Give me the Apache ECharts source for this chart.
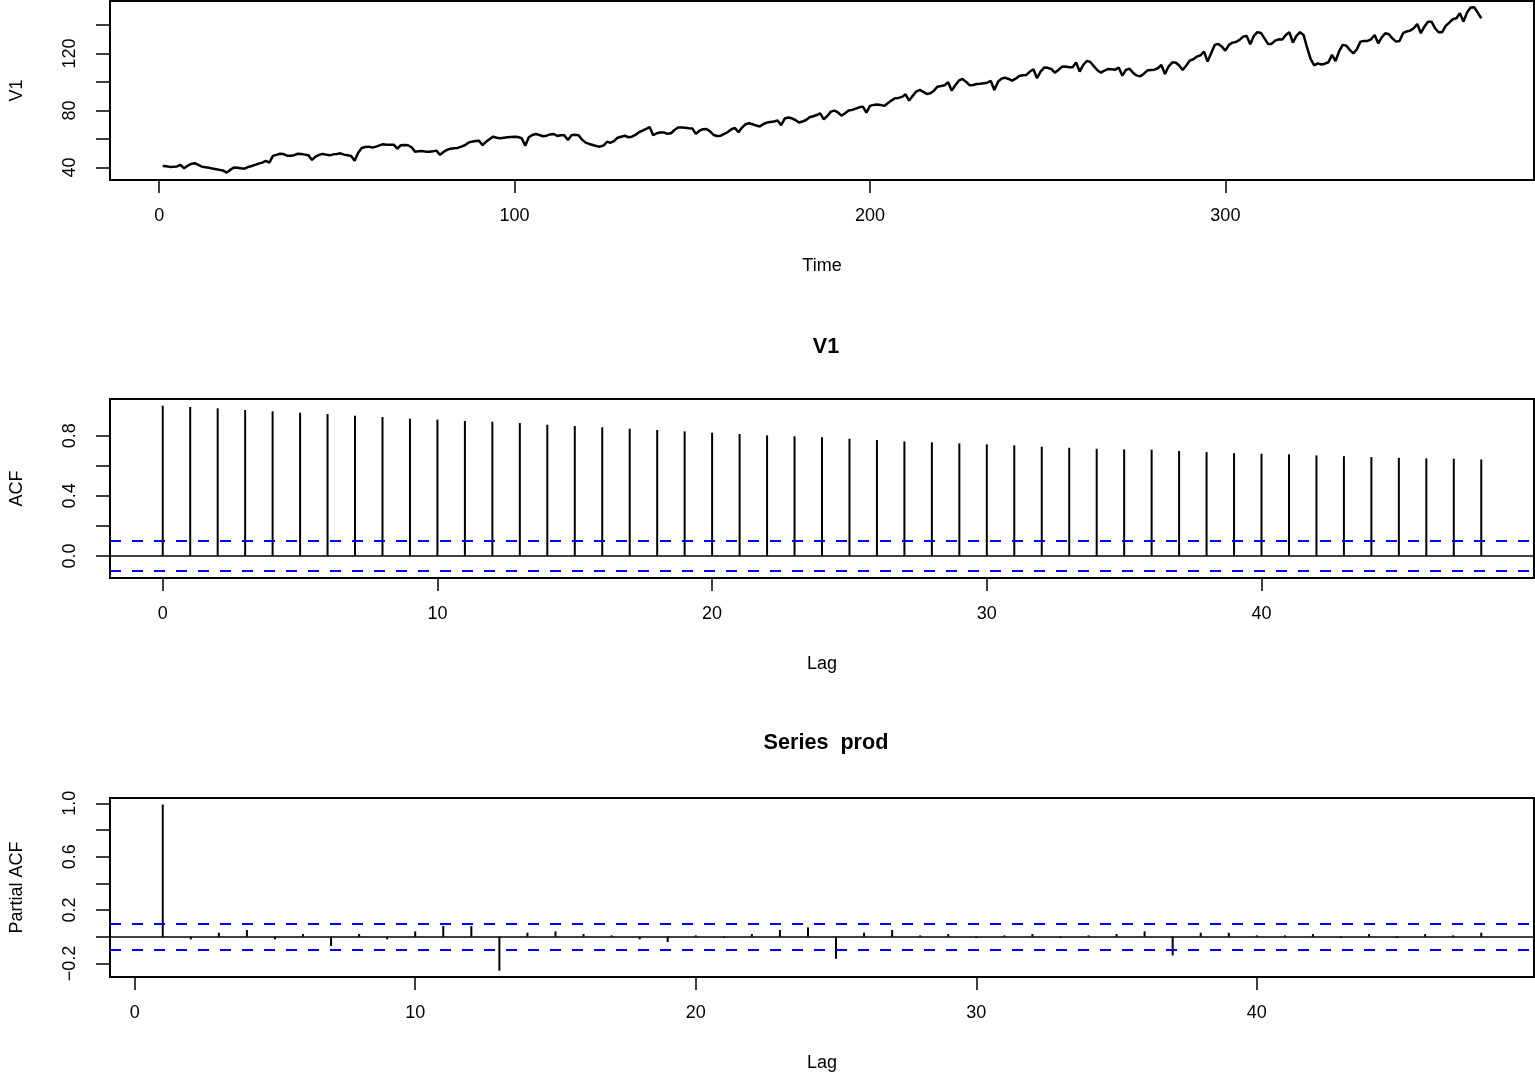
<!DOCTYPE html>
<html>
<head>
<meta charset="utf-8">
<title>V1 / ACF / PACF</title>
<script src="https://cdn.jsdelivr.net/npm/echarts@6/dist/echarts.min.js"></script>
<style>
  html, body { margin: 0; padding: 0; background: #ffffff; }
  #chart { width: 1535px; height: 1075px; }
</style>
</head>
<body>
<div id="chart"></div>
<script>
// monthly series V1, t = 1..372 (one row per year)
const v1Values = [
  41.0, 40.8, 40.4, 40.5, 40.7, 41.8, 39.4, 41.2, 42.5, 43.0, 41.8, 40.6,
  40.1, 39.8, 39.2, 38.8, 38.3, 37.8, 36.4, 38.3, 40.0, 39.8, 39.4, 39.1,
  40.3, 41.0, 41.8, 42.7, 43.4, 44.6, 43.4, 48.1, 48.8, 49.6, 49.4, 48.3,
  48.2, 48.6, 49.6, 49.4, 49.0, 48.5, 45.3, 47.6, 48.8, 49.5, 49.0, 48.5,
  49.2, 49.5, 49.9, 49.0, 48.5, 48.0, 44.8, 50.4, 53.7, 54.4, 54.6, 53.9,
  54.6, 55.5, 56.3, 56.0, 56.0, 56.0, 53.2, 55.6, 55.8, 55.6, 54.2, 51.1,
  51.3, 51.5, 51.1, 51.0, 51.3, 51.8, 48.8, 50.9, 52.3, 53.2, 53.5, 53.7,
  54.6, 55.6, 57.4, 58.1, 58.6, 58.8, 55.6, 58.1, 60.0, 61.6, 60.9, 60.5,
  60.9, 61.2, 61.4, 61.6, 61.4, 60.5, 55.3, 61.2, 62.8, 63.5, 62.8, 61.9,
  62.3, 63.2, 63.5, 62.1, 62.6, 62.6, 59.3, 62.6, 63.0, 62.6, 59.5, 57.4,
  56.5, 55.8, 55.1, 54.6, 55.4, 58.0, 57.4, 58.5, 60.9, 61.6, 62.3, 61.2,
  61.6, 62.8, 64.7, 65.8, 67.0, 68.4, 62.6, 64.0, 64.5, 64.6, 63.6, 64.0,
  66.3, 68.0, 68.0, 67.9, 67.5, 67.4, 63.6, 65.8, 66.8, 67.0, 65.3, 62.8,
  62.1, 62.3, 63.5, 64.9, 66.8, 67.7, 64.7, 68.0, 70.3, 71.0, 70.3, 69.4,
  68.7, 70.5, 71.5, 71.9, 72.2, 72.9, 69.6, 74.3, 75.0, 74.5, 73.3, 71.5,
  72.2, 73.3, 75.2, 75.9, 76.8, 78.0, 73.8, 76.1, 79.2, 79.9, 78.6, 76.4,
  78.0, 79.9, 80.4, 81.3, 82.2, 82.7, 78.5, 83.2, 83.9, 84.1, 83.9, 83.2,
  85.0, 86.9, 88.5, 88.8, 89.5, 91.3, 86.9, 90.2, 93.2, 94.4, 93.0, 91.6,
  92.0, 93.9, 96.7, 97.2, 97.7, 99.8, 93.9, 97.7, 100.9, 102.1, 100.2, 97.7,
  97.9, 98.6, 98.8, 99.1, 99.5, 100.7, 94.4, 100.0, 102.3, 103.0, 102.1, 100.9,
  102.3, 104.2, 104.7, 104.9, 107.3, 108.9, 102.6, 107.3, 110.1, 109.9, 109.1, 106.5,
  108.4, 110.6, 110.8, 110.3, 110.3, 113.6, 107.3, 111.9, 114.7, 114.0, 111.0, 108.2,
  106.5, 108.0, 109.1, 108.9, 108.6, 110.1, 104.4, 108.4, 109.3, 106.5, 104.6, 103.9,
  105.6, 108.0, 108.4, 108.6, 109.6, 111.9, 105.6, 110.8, 113.6, 113.6, 111.5, 108.4,
  111.5, 115.0, 115.9, 117.8, 118.7, 121.3, 114.3, 120.1, 126.0, 126.7, 124.8, 122.0,
  126.0, 127.6, 128.1, 129.5, 131.8, 132.3, 126.5, 132.3, 134.9, 134.4, 130.6, 126.7,
  126.7, 129.0, 129.9, 129.8, 133.0, 134.9, 127.6, 132.3, 134.9, 133.0, 124.0, 116.0,
  111.7, 113.0, 112.2, 112.8, 113.8, 119.0, 114.7, 121.5, 126.0, 125.5, 122.5, 120.1,
  122.9, 128.3, 128.8, 128.8, 129.9, 133.0, 127.1, 131.3, 134.2, 133.5, 130.6, 128.3,
  128.8, 134.2, 135.4, 136.0, 137.7, 140.7, 134.2, 138.8, 142.3, 142.3, 137.7, 134.9,
  134.9, 139.3, 141.6, 144.0, 144.7, 148.2, 142.3, 148.7, 152.2, 152.4, 148.7, 144.7
];

// ACF, lags 0..48
const acfValues = [
  1.000, 0.991, 0.982, 0.971, 0.962, 0.953, 0.944, 0.933, 0.924, 0.913,
  0.907, 0.898, 0.893, 0.884, 0.873, 0.864, 0.856, 0.847, 0.838, 0.829,
  0.820, 0.811, 0.802, 0.796, 0.789, 0.780, 0.771, 0.762, 0.756, 0.749,
  0.742, 0.736, 0.727, 0.720, 0.713, 0.709, 0.707, 0.698, 0.691, 0.684,
  0.680, 0.676, 0.669, 0.664, 0.658, 0.653, 0.649, 0.647, 0.642
];

// partial ACF, lags 1..48
const pacfValues = [
  0.991, -0.02, 0.03, 0.05, -0.02, 0.02, -0.07, 0.02, -0.02, 0.04,
  0.08, 0.08, -0.255, 0.03, 0.04, 0.02, 0.01, -0.02, -0.04, 0.01,
  -0.01, 0.02, 0.05, 0.07, -0.165, 0.03, 0.05, 0.01, 0.02, -0.01,
  0.01, 0.02, -0.01, 0.01, 0.02, 0.04, -0.14, 0.03, 0.03, 0.01,
  0.01, 0.02, -0.01, 0.02, -0.01, 0.02, 0.01, 0.03
];

const confLimit = 0.1016;

const timeTicks = [0, 100, 200, 300];
const v1Ticks = [40, 60, 80, 100, 120, 140];
const v1Labels = [40, 80, 120];
const lagTicks = [0, 10, 20, 30, 40];
const acfTicks = [0, 0.2, 0.4, 0.6, 0.8];
const acfLabels = [0, 0.4, 0.8];
const pacfTicks = [-0.2, 0, 0.2, 0.4, 0.6, 0.8, 1.0];
const pacfLabels = [-0.2, 0.2, 0.6, 1.0];

const FONT = '"Liberation Sans", Arial, Helvetica, sans-serif';

const fmt1 = (v) => Number(v).toFixed(1).replace('-', '\u2212');

const xAxisBase = (min, max, ticks, name) => ({
  type: 'value',
  min, max,
  name,
  nameLocation: 'middle',
  nameGap: 77,
  nameTextStyle: { color: '#000', fontSize: 18, fontFamily: FONT },
  axisLine: { show: false, onZero: false },
  axisTick: { show: true, inside: false, length: 13, customValues: ticks,
    lineStyle: { color: '#000', width: 1.5 } },
  axisLabel: { customValues: ticks, color: '#000', fontSize: 18, fontFamily: FONT, margin: 27 },
  splitLine: { show: false }
})

const yAxisBase = (min, max, ticks, labels, name, formatter) => ({
  type: 'value',
  min, max,
  name,
  nameLocation: 'middle',
  nameGap: 84,
  nameRotate: 90,
  nameTextStyle: { color: '#000', fontSize: 18, fontFamily: FONT },
  axisLine: { show: false, onZero: false },
  axisTick: { show: true, inside: false, length: 14, customValues: ticks,
    lineStyle: { color: '#000', width: 1.5 } },
  axisLabel: { customValues: labels, rotate: 90, color: '#000', fontSize: 18,
    fontFamily: FONT, margin: 31, formatter },
  splitLine: { show: false }
})

const refLines = {
  silent: true,
  symbol: 'none',
  label: { show: false },
  data: [
    { yAxis: 0, lineStyle: { color: '#000', type: 'solid', width: 1.5 } },
    { yAxis: confLimit, lineStyle: { color: '#0000ff', type: [11, 11], width: 2 } },
    { yAxis: -confLimit, lineStyle: { color: '#0000ff', type: [11, 11], width: 2 } }
  ]
}

const gridBox = { show: true, borderColor: '#000', borderWidth: 2, backgroundColor: 'transparent' }

const chart = echarts.init(document.getElementById('chart'))

const option = {
  animation: false,
  backgroundColor: '#ffffff',
  title: [
    { text: 'V1', left: 821, top: 331, textAlign: 'center',
      textStyle: { fontSize: 21.6, fontWeight: 'bold', color: '#000', fontFamily: FONT } },
    { text: 'Series  prod', left: 821, top: 727, textAlign: 'center',
      textStyle: { fontSize: 21.6, fontWeight: 'bold', color: '#000', fontFamily: FONT } }
  ],
  grid: [
    Object.assign({ left: 109, right: 1, top: 1, height: 179 }, gridBox),
    Object.assign({ left: 109, right: 1, top: 399, height: 179 }, gridBox),
    Object.assign({ left: 109, right: 1, top: 798, height: 179 }, gridBox)
  ],
  xAxis: [
    Object.assign(xAxisBase(-13.84, 386.84, timeTicks, 'Time'), { gridIndex: 0 }),
    Object.assign(xAxisBase(-1.92, 49.92, lagTicks, 'Lag'), { gridIndex: 1 }),
    Object.assign(xAxisBase(-0.88, 49.88, lagTicks, 'Lag'), { gridIndex: 2 })
  ],
  yAxis: [
    Object.assign(yAxisBase(31.2, 156.8, v1Ticks, v1Labels, 'V1', (v) => String(v)), { gridIndex: 0 }),
    Object.assign(yAxisBase(-0.146, 1.044, acfTicks, acfLabels, 'ACF', fmt1), { gridIndex: 1 }),
    Object.assign(yAxisBase(-0.302, 1.040, pacfTicks, pacfLabels, 'Partial ACF', fmt1), { gridIndex: 2 })
  ],
  series: [
    {
      type: 'line',
      xAxisIndex: 0, yAxisIndex: 0,
      data: v1Values.map((v, i) => [i + 1, v]),
      showSymbol: false,
      lineStyle: { color: '#000', width: 2.5 },
      silent: true
    },
    {
      type: 'bar',
      xAxisIndex: 1, yAxisIndex: 1,
      data: acfValues.map((v, i) => [i, v]),
      barWidth: 2,
      itemStyle: { color: '#000' },
      markLine: refLines,
      silent: true
    },
    {
      type: 'bar',
      xAxisIndex: 2, yAxisIndex: 2,
      data: pacfValues.map((v, i) => [i + 1, v]),
      barWidth: 2,
      itemStyle: { color: '#000' },
      markLine: refLines,
      silent: true
    }
  ]
}

chart.setOption(option)
window.addEventListener('resize', () => chart.resize())
</script>
</body>
</html>
